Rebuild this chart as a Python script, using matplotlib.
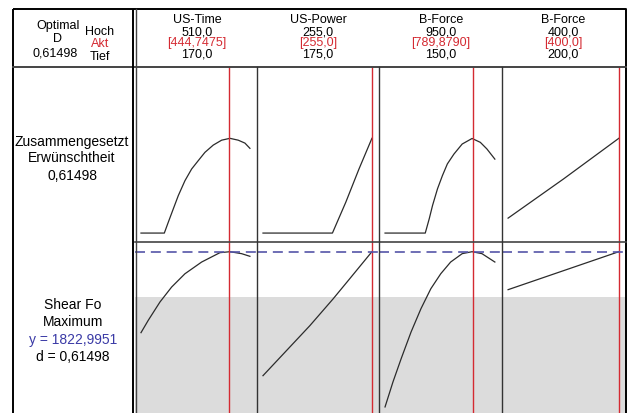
import matplotlib
matplotlib.use("Agg")
import matplotlib.pyplot as plt

# factor settings (header)
factors = ["US-Time", "US-Power", "B-Force", "B-Force"]
high = [510.0, 255.0, 950.0, 400.0]
low = [170.0, 175.0, 150.0, 200.0]
current = [444.7475, 255.0, 789.8790, 400.0]
high_txt = ["510,0", "255,0", "950,0", "400,0"]
cur_txt = ["[444,7475]", "[255,0]", "[789,8790]", "[400,0]"]
low_txt = ["170,0", "175,0", "150,0", "200,0"]

composite_d = "0,61498"
y_opt = 1822.9951
y_lower = 1500.0

# composite desirability traces (x, d) per factor
d_x = [
    [170, 242.8, 255.3, 270.8, 286.4, 307.2, 328.1, 348.7, 369.6, 395.5,
     421.7, 447.6, 473.5, 494.4, 510],
    [175, 226.0, 235.8, 245.5, 255],
    [150, 443, 472, 496, 532, 568, 604, 652, 712, 784, 844, 892, 950],
    [200, 300, 400],
]
d_y = [
    [0, 0, 0.071, 0.157, 0.243, 0.340, 0.416, 0.470, 0.524, 0.571,
     0.603, 0.615, 0.603, 0.584, 0.550],
    [0, 0, 0.20, 0.416, 0.615],
    [0, 0, 0.093, 0.179, 0.287, 0.373, 0.449, 0.513, 0.578, 0.614, 0.589, 0.546, 0.48],
    [0.097, 0.351, 0.615],
]

# Shear Force response traces (x, y) per factor
r_x = [
    [170, 192.8, 229.3, 265.7, 307.2, 359.3, 416.4, 447.6, 484, 510],
    [175, 209.4, 226.4, 238.5, 255],
    [150, 207.7, 267.5, 339.6, 411.7, 483.7, 555.8, 627.9, 712, 784, 856, 950],
    [200, 300, 400],
]
r_y = [
    [1243, 1332, 1463, 1570, 1665, 1749, 1816, 1823, 1809, 1790],
    [935, 1293, 1484, 1627, 1823],
    [711, 890, 1057, 1248, 1415, 1558, 1665, 1749, 1809, 1823, 1809, 1749],
    [1551, 1687, 1823],
]

W, H = 628, 414
plt.rcParams["font.family"] = ["Liberation Sans", "DejaVu Sans"]
fig = plt.figure(figsize=(W / 100, H / 100), dpi=100)


def box(x0, y0, x1, y1):
    return [x0 / W, 1 - y1 / H, (x1 - x0) / W, (y1 - y0) / H]


col_edges = [135, 257, 379, 502, 626]
red = "#d42a32"
curve = "#2b2b2b"

for i in range(4):
    x0, x1 = col_edges[i], col_edges[i + 1]
    span = high[i] - low[i]
    xl = (low[i] - 0.055 * span, high[i] + 0.065 * span)

    ax1 = fig.add_axes(box(x0, 68, x1, 243))
    ax1.plot(d_x[i], d_y[i], color=curve, lw=0.9)
    ax1.axvline(current[i], color=red, lw=1.0)
    ax1.set_xlim(*xl)
    ax1.set_ylim(-0.058, 1.078)

    ax2 = fig.add_axes(box(x0, 243, x1, 420))
    ax2.axhspan(0, y_lower, color="#dcdcdc", lw=0)
    ax2.plot(r_x[i], r_y[i], color=curve, lw=0.9)
    ax2.axvline(current[i], color=red, lw=1.0)
    ax2.axhline(y_opt, color="#5555a8", lw=1.2, dashes=(6, 3.5))
    ax2.set_xlim(*xl)
    ax2.set_ylim(624.6, 1892.5)

    for a in (ax1, ax2):
        a.set_xticks([])
        a.set_yticks([])
        for s in a.spines.values():
            s.set_visible(False)

# overlay for frame and text
ov = fig.add_axes([0, 0, 1, 1], zorder=10)
ov.set_xlim(0, W)
ov.set_ylim(H, 0)
ov.axis("off")
ov.patch.set_alpha(0)

k = dict(color="black", lw=1.4, solid_capstyle="butt")
ov.plot([13, 626, 626, 13, 13], [10, 10, 420, 420, 10], **k)
ov.plot([13, 626], [68, 68], color="#444444", lw=1.4)
ov.plot([133, 133], [10, 420], **k)
ov.plot([135.5, 135.5], [10, 420], color="#444444", lw=1.0)
ov.plot([135, 626], [243, 243], color="#444444", lw=1.2)
for xe in col_edges[1:4]:
    ov.plot([xe, xe], [68, 420], color="#333333", lw=1.0)

fs = 9
tk = dict(ha="center", va="center", fontsize=fs)
ov.text(58, 26, "Optimal", **tk)
ov.text(58, 39, "D", **tk)
ov.text(55, 54, composite_d, **tk)
ov.text(100, 32, "Hoch", **tk)
ov.text(100, 44, "Akt", color=red, **tk)
ov.text(100, 57, "Tief", **tk)

centers = [197, 318, 441, 563]
for i in range(4):
    cx = centers[i]
    ov.text(cx, 20, factors[i], **tk)
    ov.text(cx, 32.5, high_txt[i], **tk)
    ov.text(cx, 43, cur_txt[i], color=red, **tk)
    ov.text(cx, 54.5, low_txt[i], **tk)

lk = dict(ha="center", va="center", fontsize=10)
ov.text(72, 142, "Zusammengesetzt", **lk)
ov.text(72, 158, "Erwünschtheit", **lk)
ov.text(72, 176, composite_d, **lk)
ov.text(73, 305, "Shear Fo", **lk)
ov.text(73, 322.5, "Maximum", **lk)
ov.text(73, 340, "y = " + f"{y_opt:.4f}".replace(".", ","), color="#3a3aa6", **lk)
ov.text(73, 357, "d = " + composite_d, **lk)

fig.savefig("out.png", dpi=100)
